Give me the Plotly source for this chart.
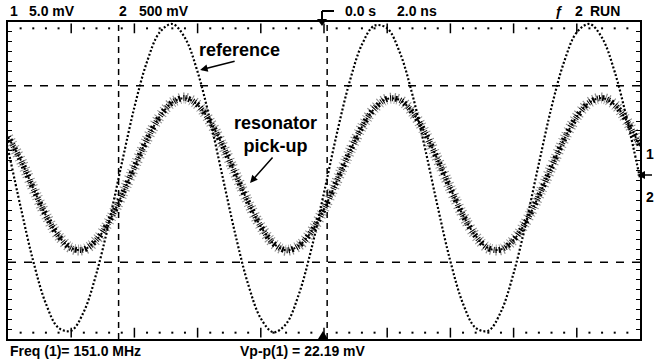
import plotly.graph_objects as go
import numpy as np

# ---- data (read from the oscilloscope screen) ----
# time in ns (2.0 ns/div, 10 divisions), amplitude in screen divisions
time_ns = [-10.0, -9.6, -9.2, -8.8, -8.4, -8.0, -7.6, -7.2, -6.8, -6.4,
           -6.0, -5.6, -5.2, -4.8, -4.4, -4.0, -3.6, -3.2, -2.8, -2.4,
           -2.0, -1.6, -1.2, -0.8, -0.4, 0.0, 0.4, 0.8, 1.2, 1.6,
           2.0, 2.4, 2.8, 3.2, 3.6, 4.0, 4.4, 4.8, 5.2, 5.6,
           6.0, 6.4, 6.8, 7.2, 7.6, 8.0, 8.4, 8.8, 9.2, 9.6, 10.0]

# channel 2 : reference (500 mV/div)
reference_div = [0.80, -0.67, -2.04, -3.11, -3.72, -3.79, -3.31, -2.34, -1.04, 0.43,
                 1.85, 3.00, 3.74, 3.95, 3.60, 2.74, 1.50, 0.06, -1.38, -2.62,
                 -3.48, -3.83, -3.62, -2.88, -1.73, -0.31, 1.16, 2.46, 3.43, 3.91,
                 3.84, 3.23, 2.16, 0.80, -0.67, -2.04, -3.11, -3.72, -3.79, -3.31,
                 -2.34, -1.04, 0.43, 1.85, 3.00, 3.74, 3.95, 3.60, 2.74, 1.50, 0.06]

# channel 1 : resonator pick-up (5.0 mV/div)
resonator_div = [1.10, 0.52, -0.20, -0.88, -1.40, -1.71, -1.74, -1.50, -1.03, -0.38,
                 0.34, 1.04, 1.61, 1.97, 2.08, 1.91, 1.48, 0.87, 0.16, -0.55,
                 -1.16, -1.59, -1.76, -1.65, -1.29, -0.72, -0.02, 0.70, 1.35, 1.82,
                 2.06, 2.03, 1.72, 1.20, 0.52, -0.20, -0.88, -1.40, -1.71, -1.74,
                 -1.50, -1.03, -0.38, 0.34, 1.04, 1.61, 1.97, 2.08, 1.91, 1.48, 0.87]

# cursors
time_cursors_ns = [-6.5, 0.1]
volt_cursors_div = [2.39, -2.06]

top_labels = ["1", "5.0 mV", "2", "500 mV", "0.0 s", "2.0 ns", "ƒ", "2", "RUN"]
bottom_labels = ["Freq (1)= 151.0 MHz", "Vp-p(1) = 22.19 mV"]

# ---- layout geometry ----
W, H = 654, 364
L, R, T, B = 8, 640, 22, 339
FONT = "Liberation Sans, Arial, sans-serif"


def px(x):
    return (x - L) / (R - L)


def py(y):
    return (B - y) / (B - T)


fig = go.Figure()

# graticule dots on top and bottom edges
minor_x = [v for v in np.arange(-9.6, 9.61, 0.4) if abs(v / 2 - round(v / 2)) > 1e-6]
major_x = [v for v in np.arange(-8, 8.01, 2)]
for yy in (3.84, -3.84):
    fig.add_trace(go.Scatter(x=minor_x, y=[yy] * len(minor_x), mode="markers",
                             marker=dict(symbol="square", size=2, color="black"),
                             hoverinfo="skip", showlegend=False))
    fig.add_trace(go.Scatter(x=major_x, y=[yy] * len(major_x), mode="markers",
                             marker=dict(symbol="line-ns", size=7,
                                         line=dict(width=1.5, color="black")),
                             hoverinfo="skip", showlegend=False))

# resonator: noisy speckled band
fig.add_trace(go.Scatter(x=time_ns, y=resonator_div, mode="lines",
                         line=dict(shape="spline", width=11, color="rgba(0,0,0,0.45)",
                                   dash="1px,3px,1px,2px,1px,4px"),
                         hoverinfo="skip", showlegend=False))
fig.add_trace(go.Scatter(x=time_ns, y=resonator_div, mode="lines",
                         line=dict(shape="spline", width=6, color="black",
                                   dash="1px,2px,2px,3px,1px,1px"),
                         hoverinfo="skip", showlegend=False))
fig.add_trace(go.Scatter(x=time_ns, y=resonator_div, mode="lines",
                         line=dict(shape="spline", width=2, color="black", dash="2px,3px"),
                         name="resonator pick-up", showlegend=False))
# reference
fig.add_trace(go.Scatter(x=time_ns, y=reference_div, mode="lines",
                         line=dict(shape="spline", width=2.2, color="black", dash="2px,2px"),
                         name="reference", showlegend=False))

shapes = []
for tc in time_cursors_ns:
    shapes.append(dict(type="line", xref="x", yref="paper", x0=tc, x1=tc, y0=0, y1=1,
                       line=dict(color="black", width=1.5, dash="6px,5px")))
for vc in volt_cursors_div:
    shapes.append(dict(type="line", xref="paper", yref="y", x0=0, x1=1, y0=vc, y1=vc,
                       line=dict(color="black", width=1.5, dash="8px,8px")))
# trigger position marker (top) and bottom marker
shapes.append(dict(type="line", xref="paper", yref="paper", x0=px(322), x1=px(334),
                   y0=py(11), y1=py(11), line=dict(color="black", width=2)))
shapes.append(dict(type="line", xref="paper", yref="paper", x0=px(322), x1=px(322),
                   y0=py(11), y1=py(20), line=dict(color="black", width=2)))
shapes.append(dict(type="path", xref="paper", yref="paper",
                   path=f"M {px(317)} {py(19)} L {px(327)} {py(19)} L {px(322)} {py(26)} Z",
                   fillcolor="black", line=dict(width=0)))
shapes.append(dict(type="path", xref="paper", yref="paper",
                   path=f"M {px(318)} {py(339)} L {px(328)} {py(339)} L {px(323)} {py(331)} Z",
                   fillcolor="black", line=dict(width=0)))
# channel ground marker on right side
shapes.append(dict(type="path", xref="paper", yref="paper",
                   path=f"M {px(637)} {py(175)} L {px(645)} {py(171)} L {px(645)} {py(179)} Z",
                   fillcolor="black", line=dict(width=0)))
shapes.append(dict(type="line", xref="paper", yref="paper", x0=px(645), x1=px(652),
                   y0=py(175), y1=py(175), line=dict(color="black", width=1.5)))

annotations = []
top_pos = [8, 27, 117, 137, 343, 395, 553, 573, 588]
for lab, xx in zip(top_labels, top_pos):
    annotations.append(dict(text=f"<b>{lab}</b>", xref="paper", yref="paper",
                            x=px(xx), y=py(11), xanchor="left", yanchor="middle",
                            showarrow=False, font=dict(family=FONT, size=14, color="black")))
for lab, xx in zip(bottom_labels, [8, 238]):
    annotations.append(dict(text=f"<b>{lab}</b>", xref="paper", yref="paper",
                            x=px(xx), y=py(351), xanchor="left", yanchor="middle",
                            showarrow=False, font=dict(family=FONT, size=14, color="black")))
for lab, yy in (("1", 154), ("2", 197)):
    annotations.append(dict(text=f"<b>{lab}</b>", xref="paper", yref="paper",
                            x=px(644), y=py(yy), xanchor="left", yanchor="middle",
                            showarrow=False, font=dict(family=FONT, size=14, color="black")))

# in-plot labels with arrows
annotations.append(dict(text="<b>reference</b>", x=-2.66, y=3.30, xref="x", yref="y",
                        showarrow=False, font=dict(family=FONT, size=18, color="black")))
annotations.append(dict(text=" ", x=-3.92, y=2.79, xref="x", yref="y", ax=36, ay=-9,
                        showarrow=True, arrowhead=2, arrowsize=1, arrowwidth=1.5,
                        arrowcolor="black", font=dict(size=1)))
annotations.append(dict(text="<b>resonator<br>pick-up</b>", x=-1.55, y=1.15, xref="x", yref="y",
                        showarrow=False, font=dict(family=FONT, size=18, color="black")))
annotations.append(dict(text=" ", x=-2.34, y=-0.06, xref="x", yref="y", ax=24, ay=-27,
                        showarrow=True, arrowhead=2, arrowsize=1, arrowwidth=1.5,
                        arrowcolor="black", font=dict(size=1)))

fig.update_layout(
    width=W, height=H,
    margin=dict(l=L, r=W - R, t=T, b=H - B),
    paper_bgcolor="white", plot_bgcolor="white",
    showlegend=False,
    shapes=shapes, annotations=annotations,
    xaxis=dict(range=[-10, 10], showgrid=False, zeroline=False, showline=True,
               linecolor="black", linewidth=2, mirror=True, ticks="",
               showticklabels=False, fixedrange=True),
    yaxis=dict(range=[-4, 4], showgrid=False, zeroline=False, showline=True,
               linecolor="black", linewidth=2, mirror="ticks", ticks="inside",
               ticklen=4, tickwidth=1, tickcolor="black", tick0=0, dtick=0.25,
               showticklabels=False, fixedrange=True),
)

fig.write_html("out.html", config={"displayModeBar": False})
